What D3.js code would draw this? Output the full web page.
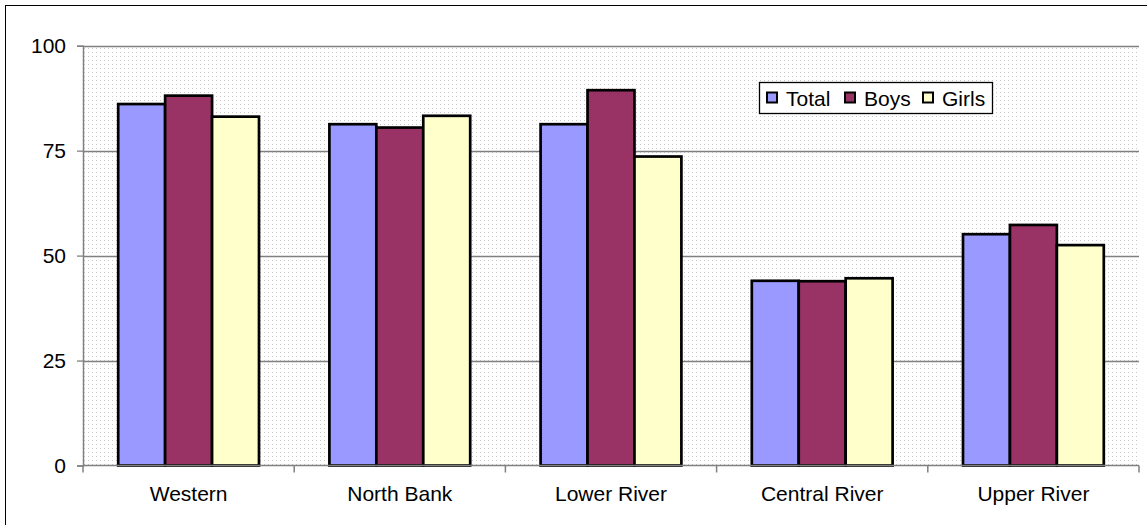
<!DOCTYPE html>
<html>
<head>
<meta charset="utf-8">
<script src="https://cdn.jsdelivr.net/npm/d3@7"></script>
<style>
  html, body { margin: 0; padding: 0; background: #fff; }
  svg { display: block; font-family: "Liberation Sans", Arial, sans-serif; }
</style>
</head>
<body>
<svg id="chart" width="1147" height="525"></svg>
<script>
// Regional rates, in percent
const regions = ["Western", "North Bank", "Lower River", "Central River", "Upper River"];
const seriesNames = ["Total", "Boys", "Girls"];
const totalValues = [86.1, 81.3, 81.3, 44.0, 55.1];
const boysValues  = [88.1, 80.5, 89.4, 43.9, 57.3];
const girlsValues = [83.1, 83.3, 73.6, 44.6, 52.5];
const yTicks = [0, 25, 50, 75, 100];

const seriesColors = { Total: "#9999FF", Boys: "#993366", Girls: "#FFFFCC" };
const valuesBySeries = { Total: totalValues, Boys: boysValues, Girls: girlsValues };

const rows = regions.map((r, i) => ({
  region: r,
  values: seriesNames.map(s => ({ series: s, value: valuesBySeries[s][i] }))
}));

const FONT = 21;
const svg = d3.select("#chart");
const plot = { left: 83, right: 1139, top: 45.7, bottom: 465.5 };

// dotted plot-area fill
const defs = svg.append("defs");
const pat = defs.append("pattern")
  .attr("id", "dots").attr("patternUnits", "userSpaceOnUse")
  .attr("width", 4).attr("height", 4);
pat.append("rect").attr("width", 4).attr("height", 4).attr("fill", "#ffffff");
pat.append("rect").attr("x", 0).attr("y", 0).attr("width", 1).attr("height", 1).attr("fill", "#c8c8c8");

// outer chart frame
svg.append("rect")
  .attr("x", 5.5).attr("y", 5.5).attr("width", 1160).attr("height", 540)
  .attr("fill", "#fff").attr("stroke", "#000").attr("stroke-width", 1);

const x0 = d3.scaleBand().domain(regions)
  .range([plot.left, plot.right]).paddingInner(1 / 3).paddingOuter(1 / 6);
const x1 = d3.scaleBand().domain(seriesNames).range([0, x0.bandwidth()]);
const y = d3.scaleLinear().domain([0, 100]).range([plot.bottom, plot.top]);

svg.append("rect")
  .attr("x", plot.left).attr("y", plot.top)
  .attr("width", plot.right - plot.left).attr("height", plot.bottom - plot.top)
  .attr("fill", "url(#dots)");

// horizontal gridlines
svg.append("g").selectAll("line").data(yTicks.filter(t => t > 0)).join("line")
  .attr("x1", plot.left).attr("x2", plot.right)
  .attr("y1", d => Math.round(y(d)) + 0.5).attr("y2", d => Math.round(y(d)) + 0.5)
  .attr("stroke", "#808080").attr("stroke-width", 1.3);

// bars
const groups = svg.append("g").selectAll("g").data(rows).join("g")
  .attr("transform", d => `translate(${x0(d.region)},0)`);
groups.selectAll("rect").data(d => d.values).join("rect")
  .attr("x", d => x1(d.series))
  .attr("y", d => y(d.value))
  .attr("width", x1.bandwidth())
  .attr("height", d => y(0) - y(d.value))
  .attr("fill", d => seriesColors[d.series])
  .attr("stroke", "#000").attr("stroke-width", 2.7);

// y axis
const yAxis = svg.append("g")
  .attr("transform", `translate(${plot.left},0)`)
  .call(d3.axisLeft(y).tickValues(yTicks).tickSize(6).tickPadding(11).tickFormat(d3.format("d")));
yAxis.select(".domain").attr("stroke", "#808080").attr("stroke-width", 1.5);
yAxis.selectAll(".tick line").attr("stroke", "#808080").attr("stroke-width", 1.3);
yAxis.selectAll(".tick text").attr("font-size", FONT).attr("fill", "#000")
  .attr("font-family", "'Liberation Sans', Arial, sans-serif");

// x axis line and category boundary ticks
const step = x0.step();
const boundaries = regions.map(r => x0(r) - step * x0.paddingInner() / 2)
  .concat([x0(regions[regions.length - 1]) + x0.bandwidth() + step * x0.paddingInner() / 2]);
svg.append("line")
  .attr("x1", plot.left).attr("x2", plot.right)
  .attr("y1", plot.bottom).attr("y2", plot.bottom)
  .attr("stroke", "#808080").attr("stroke-width", 1.5);
svg.append("g").selectAll("line").data(boundaries).join("line")
  .attr("x1", d => d).attr("x2", d => d)
  .attr("y1", plot.bottom).attr("y2", plot.bottom + 7)
  .attr("stroke", "#808080").attr("stroke-width", 1.5);

const xAxis = svg.append("g")
  .attr("transform", `translate(0,${plot.bottom})`)
  .call(d3.axisBottom(x0).tickSize(0).tickPadding(21));
xAxis.select(".domain").remove();
xAxis.selectAll(".tick text").attr("font-size", FONT).attr("fill", "#000")
  .attr("font-family", "'Liberation Sans', Arial, sans-serif");

// legend
const legend = svg.append("g").attr("transform", "translate(759.5,82.5)");
legend.append("rect").attr("width", 233).attr("height", 31)
  .attr("fill", "#fff").attr("stroke", "#000").attr("stroke-width", 1.3);
const items = legend.selectAll("g").data(seriesNames).join("g")
  .attr("transform", (d, i) => `translate(${7.5 + i * 78},10)`);
items.append("rect").attr("width", 10).attr("height", 10)
  .attr("fill", d => seriesColors[d]).attr("stroke", "#000").attr("stroke-width", 2);
items.append("text").attr("x", 19).attr("y", 13.8)
  .attr("font-size", FONT).attr("fill", "#000").text(d => d);
</script>
</body>
</html>
